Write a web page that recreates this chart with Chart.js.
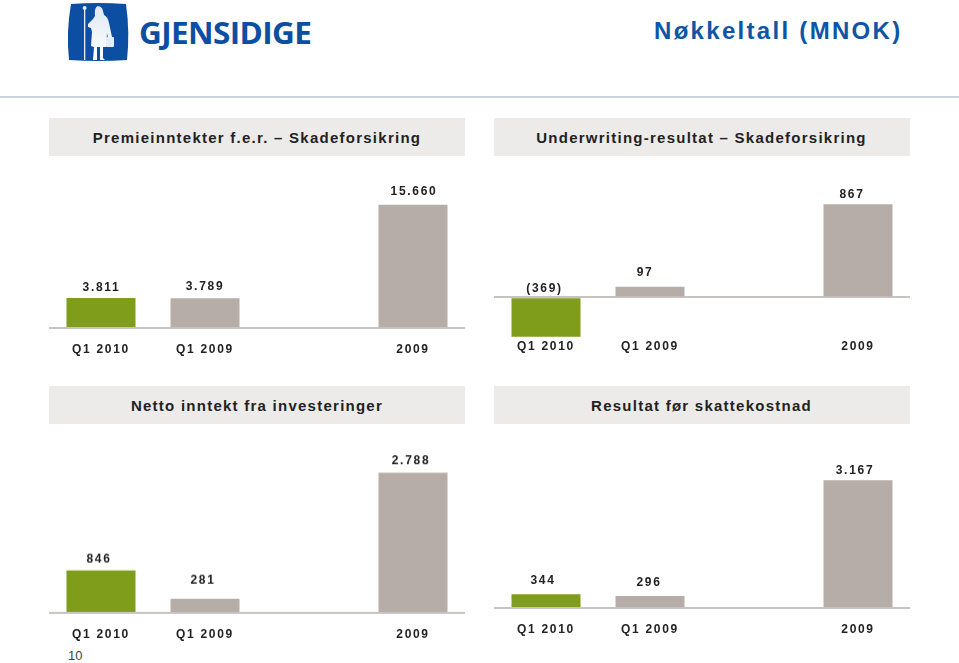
<!DOCTYPE html>
<html><head><meta charset="utf-8">
<script src="https://cdn.jsdelivr.net/npm/chart.js@4"></script>
<style>
html,body{margin:0;padding:0;background:#fff}
body{width:959px;height:663px;position:relative;overflow:hidden;font-family:"Liberation Sans",Arial,sans-serif}
.abs{position:absolute}
.band{position:absolute;height:38px;width:416px;background:#ecebe9;color:#222;font-weight:bold;display:flex;align-items:center;justify-content:center;white-space:nowrap}
canvas{position:absolute}
#rule{left:0;top:96px;width:959px;height:2px;background:#c9d3de}
#title{left:654px;top:17px;font-size:24px;font-weight:bold;color:#0d56a6;letter-spacing:2.3px;white-space:nowrap}
#pg{left:68px;top:648px;font-size:13px;color:#444}
#logoText{left:139px;top:12px;font-family:"Open Sans","Noto Sans",sans-serif;font-weight:700;font-size:30px;color:#0b4ea2;letter-spacing:-.6px;white-space:nowrap;transform-origin:left top;transform:scaleX(1.05)}
</style></head>
<body>
<svg class="abs" style="left:66px;top:2px" width="64" height="60" viewBox="0 0 64 60">
<path d="M5 2 Q32 0 60 2 Q64 30 61 58 Q32 60 3 58 Q0 30 5 2Z" fill="#0b4ea2"/>
<defs><linearGradient id="g" x1="0" y1="0" x2="0" y2="1"><stop offset="0" stop-color="#dfe8f2"/><stop offset="1" stop-color="#fff"/></linearGradient></defs>
<rect x="18" y="6" width="1.3" height="52" fill="#e6edf5"/><circle cx="18.6" cy="6" r="2" fill="#e6edf5"/>
<path d="M31 4 q5 0 6 5 l1 4 q4 2 5 8 l3 14 l-4 1 l-1 -5 l-1 14 l-3 0 l0 11 l2 2 l-5 0 l0 -13 l-3 0 l0 13 l-4 0 l1 -13 l-3 -1 l1 -14 l-1 -4 l-3 -1 l0 -3 l5 -5 l2 -3 q-1 -9 3 -10z" fill="url(#g)"/>
<rect x="40" y="35" width="8" height="10" rx="1" fill="#e6edf5"/>
</svg>
<div class="abs" id="logoText">GJENSIDIGE</div>
<div class="abs" id="title">Nøkkeltall (MNOK)</div>
<div class="abs" id="rule"></div>
<div class="band" style="left:49px;top:118px;font-size:15px;letter-spacing:1.25px">Premieinntekter f.e.r. – Skadeforsikring</div>
<div class="band" style="left:493.5px;top:118px;font-size:15px;letter-spacing:1.25px">Underwriting-resultat – Skadeforsikring</div>
<div class="band" style="left:49px;top:386px;font-size:15px;letter-spacing:1.25px">Netto inntekt fra investeringer</div>
<div class="band" style="left:493.5px;top:386px;font-size:15px;letter-spacing:1.25px">Resultat før skattekostnad</div>
<div class="abs" id="pg">10</div>
<script>
const categories = ["Q1 2010", "Q1 2009", "", "2009"];
const premiums = [3811, 3789, null, 15660];
const underwriting = [-369, 97, null, 867];
const investments = [846, 281, null, 2788];
const pretax = [344, 296, null, 3167];
const barColors = ["#7f9c1b", "#b6ada8", "#b6ada8", "#b6ada8"];

const layouts = [
  {values: premiums,     left: 49,   chartTop: 202.3, chartBottom: 328.5, min: 0,    max: 16000, tickPad: 6.5, dx: [0.5,0,0,1],   lift: [10.5,11.5,0,13]},
  {values: underwriting, left: 494,  chartTop: 189.7, chartBottom: 339.9, min: -400, max: 1000,  tickPad: -9,  dx: [-1.5,-5,0,-6], lift: [8,14.5,0,10]},
  {values: investments,  left: 48.5, chartTop: 462.4, chartBottom: 613,   min: 0,    max: 3000,  tickPad: 6,   dx: [-2,-2,0,-2],   lift: [11.5,18,0,12]},
  {values: pretax,       left: 494,  chartTop: 478.7, chartBottom: 608.5, min: 0,    max: 3200,  tickPad: 6,   dx: [-3,-1,0,-3],   lift: [13.5,13.5,0,10]}
];

const fmt = v => {
  const s = String(Math.abs(v)).replace(/\B(?=(\d{3})+$)/g, ".");
  return v < 0 ? "(" + s + ")" : s;
};
const FONT = {family: '"Liberation Sans", Arial, sans-serif', size: 12, weight: "bold"};

layouts.forEach(p => {
  const top = p.chartTop - 40, bottom = p.chartBottom + 35;
  const c = document.createElement("canvas");
  c.style.width = "416px";
  c.style.height = (bottom - top) + "px";
  const wrap = document.createElement("div");
  wrap.className = "abs";
  wrap.style.cssText = `left:${p.left}px;top:${top}px;width:416px;height:${bottom-top}px`;
  c.style.left = c.style.top = "0";
  wrap.appendChild(c);
  document.body.appendChild(wrap);
  new Chart(c, {
    type: "bar",
    data: {labels: categories, datasets: [{data: p.values, backgroundColor: barColors, borderWidth: 0,
      barPercentage: 69/104, categoryPercentage: 1}]},
    options: {
      responsive: false, animation: false, maintainAspectRatio: false,
      layout: {padding: {top: p.chartTop - top, left: 0, right: 0, bottom: 0}},
      plugins: {legend: {display: false}, tooltip: {enabled: false}},
      scales: {
        x: {
          grid: {display: false}, border: {display: false},
          afterFit(s) { s.height = bottom - p.chartBottom; },
          ticks: {color: "#222", font: FONT, padding: p.tickPad, maxRotation: 0, autoSkip: false}
        },
        y: {
          min: p.min, max: p.max,
          afterFit(s) { s.width = 0; },
          border: {display: false},
          ticks: {display: false, stepSize: p.max - p.min > 1500 && p.min === 0 ? p.max : 200},
          grid: {drawTicks: false, lineWidth: 2, color: t => t.tick.value === 0 ? "#c6c3c0" : "transparent"}
        }
      }
    },
    plugins: [{
      id: "valueLabels",
      beforeDraw(ch) { ch.ctx.letterSpacing = "1.7px"; },
      afterDatasetsDraw(ch) {
        const ctx = ch.ctx, meta = ch.getDatasetMeta(0), ys = ch.scales.y;
        ctx.save();
        ctx.font = 'bold 12px "Liberation Sans", Arial, sans-serif';
        ctx.fillStyle = "#222";
        ctx.textAlign = "center";
        ctx.textBaseline = "middle";
        p.values.forEach((v, i) => {
          if (v === null) return;
          const y = Math.min(ys.getPixelForValue(v), ys.getPixelForValue(0)) - p.lift[i];
          ctx.fillText(fmt(v), meta.data[i].x + p.dx[i], y);
        });
        ctx.restore();
      }
    }]
  });
});
</script>
</body></html>
